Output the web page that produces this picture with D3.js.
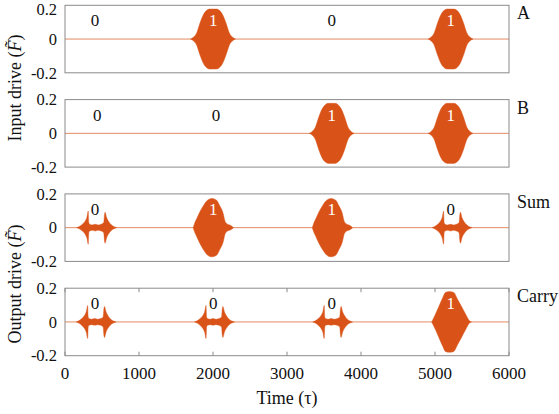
<!DOCTYPE html>
<html>
<head>
<meta charset="utf-8">
<script src="https://cdn.jsdelivr.net/npm/d3@7"></script>
<style>
  body { margin: 0; background: #fff; }
  svg text { font-family: "Liberation Serif", "Times New Roman", serif; fill: #111; }
</style>
</head>
<body>
<div id="chart"></div>
<script>
// ---- data ----
const xTicks = [0, 1000, 2000, 3000, 4000, 5000, 6000];
const yTicks = [-0.2, 0, 0.2];
const yTickLabels = ["-0.2", "0", "0.2"];
const panelNames = ["A", "B", "Sum", "Carry"];

// envelope shapes: offset from pulse centre (tau) and amplitude
const inputOffsets = [-304, -266, -221, -176, -131, -86, -45, 0, 45, 86, 131, 176, 221, 266, 304];
const inputAmps    = [0, 0.01, 0.036, 0.095, 0.144, 0.17, 0.178, 0.178, 0.178, 0.17, 0.144, 0.095, 0.036, 0.01, 0];

const outOneOffsets = [-268, -250, -221, -176, -131, -86, -18, 49, 94, 139, 162, 184, 252, 276];
const outOneAmps    = [0, 0.025, 0.053, 0.095, 0.13, 0.158, 0.173, 0.163, 0.128, 0.083, 0.04, 0.025, 0.01, 0];

const carryOneOffsets = [-250, -200, -155, -100, -65, -10, 48, 100, 156, 210, 264, 290];
const carryOneAmps    = [0, 0.045, 0.09, 0.145, 0.175, 0.18, 0.175, 0.135, 0.09, 0.045, 0.005, 0];

const outZeroOffsets = [-270, -230, -190, -155, -132, -114, -106, -95, -60, -20, 20, 60, 95, 106, 114, 135, 160, 195, 235, 270];
const outZeroAmps    = [0, 0.008, 0.022, 0.04, 0.062, 0.098, 0.03, 0.02, 0.016, 0.02, 0.016, 0.02, 0.03, 0.08, 0.092, 0.06, 0.038, 0.018, 0.006, 0];

// pulse centres per panel and which shape each uses
const aCenters = [2000, 5210];
const bCenters = [3604, 5210];
const sumOneCenters = [2000, 3610];
const sumZeroCenters = [428, 5230];
const carryZeroCenters = [420, 2020, 3617];
const carryOneCenters = [5205];

// bit annotations (tau position, text)
const aBits = [[405, "0"], [2004, "1"], [3604, "0"], [5212, "1"]];
const bBits = [[437, "0"], [2040, "0"], [3604, "1"], [5212, "1"]];
const sumBits = [[405, "0"], [2004, "1"], [3604, "1"], [5212, "0"]];
const carryBits = [[405, "0"], [2004, "0"], [3604, "0"], [5212, "1"]];

// ---- layout ----
const W = 559, H = 414;
const left = 65, right = 509;
const panelH = 67.5, panelStep = 94.3, firstTop = 5.3;
const orange = "#D95319";

const svg = d3.select("#chart").append("svg")
  .attr("width", W).attr("height", H);

const x = d3.scaleLinear().domain([0, 6000]).range([left, right]);

function shape(offsets, amps) {
  return offsets.map((o, i) => ({ o: o, a: amps[i] }));
}
const inputShape = shape(inputOffsets, inputAmps);
const outOneShape = shape(outOneOffsets, outOneAmps);
const carryOneShape = shape(carryOneOffsets, carryOneAmps);
const outZeroShape = shape(outZeroOffsets, outZeroAmps);

const panels = [
  { pulses: aCenters.map(c => [c, inputShape]), bits: aBits },
  { pulses: bCenters.map(c => [c, inputShape]), bits: bBits },
  { pulses: sumOneCenters.map(c => [c, outOneShape]).concat(sumZeroCenters.map(c => [c, outZeroShape])), bits: sumBits },
  { pulses: carryZeroCenters.map(c => [c, outZeroShape]).concat(carryOneCenters.map(c => [c, carryOneShape])), bits: carryBits }
];

panels.forEach((p, i) => {
  const top = firstTop + i * panelStep;
  const y = d3.scaleLinear().domain([-0.2, 0.2]).range([top + panelH, top]);
  const g = svg.append("g");

  // baseline of the signal
  g.append("line")
    .attr("x1", x(0)).attr("x2", x(6000))
    .attr("y1", y(0)).attr("y2", y(0))
    .attr("stroke", orange).attr("stroke-width", 0.9).attr("opacity", 0.75);

  // pulses as filled envelopes
  const area = d3.area()
    .x(d => x(d.t))
    .y0(d => y(-d.a))
    .y1(d => y(d.a))
    .curve(d3.curveMonotoneX);

  p.pulses.forEach(([c, s]) => {
    g.append("path")
      .datum(s.map(d => ({ t: c + d.o, a: d.a })))
      .attr("d", area)
      .attr("fill", orange)
      .attr("stroke", orange)
      .attr("stroke-width", 0.4);
  });

  // frame
  g.append("rect")
    .attr("x", left).attr("y", top)
    .attr("width", right - left).attr("height", panelH)
    .attr("fill", "none").attr("stroke", "#8a8a8a").attr("stroke-width", 1);

  // y tick labels (top one nudged down so it stays inside the page)
  g.selectAll(".ytl").data(yTicks).join("text")
    .attr("x", left - 8)
    .attr("y", d => y(d) + (d > 0 && i === 0 ? 3.5 : 0))
    .attr("dy", "0.35em")
    .attr("text-anchor", "end")
    .attr("font-size", 16.5)
    .text((d, k) => yTickLabels[k]);

  // bit labels
  g.selectAll(".bit").data(p.bits).join("text")
    .attr("x", d => x(d[0]))
    .attr("y", top + 21)
    .attr("text-anchor", "middle")
    .attr("font-size", 17)
    .style("fill", d => d[1] === "1" ? "#fff" : "#111")
    .text(d => d[1]);

  // panel name on the right
  g.append("text")
    .attr("x", 517).attr("y", top + 14)
    .attr("font-size", 18)
    .text(panelNames[i]);

  // x ticks only on bottom panel
  if (i === panels.length - 1) {
    g.selectAll(".xt").data(xTicks).join("line")
      .attr("x1", d => x(d)).attr("x2", d => x(d))
      .attr("y1", top + panelH).attr("y2", top + panelH - 4)
      .attr("stroke", "#8a8a8a");
    g.selectAll(".xt2").data(xTicks).join("line")
      .attr("x1", d => x(d)).attr("x2", d => x(d))
      .attr("y1", top).attr("y2", top + 4)
      .attr("stroke", "#8a8a8a");
    g.selectAll(".xtl").data(xTicks).join("text")
      .attr("x", d => x(d))
      .attr("y", top + panelH + 23)
      .attr("text-anchor", "middle")
      .attr("font-size", 17)
      .text(d => d);
  }
});

// axis titles
function driveLabel(txt, cx, cy) {
  const t = svg.append("text")
    .attr("transform", `translate(${cx},${cy}) rotate(-90)`)
    .attr("text-anchor", "middle")
    .attr("dy", "0.35em")
    .attr("font-size", 18);
  t.append("tspan").text(txt + " (");
  t.append("tspan").style("font-style", "italic").text("F\u0303");
  t.append("tspan").text(")");
}
driveLabel("Input drive", 15, 88);
driveLabel("Output drive", 15, 284);

svg.append("text")
  .attr("x", 287).attr("y", 404)
  .attr("text-anchor", "middle")
  .attr("font-size", 18)
  .text("Time (\u03C4)");
</script>
</body>
</html>
